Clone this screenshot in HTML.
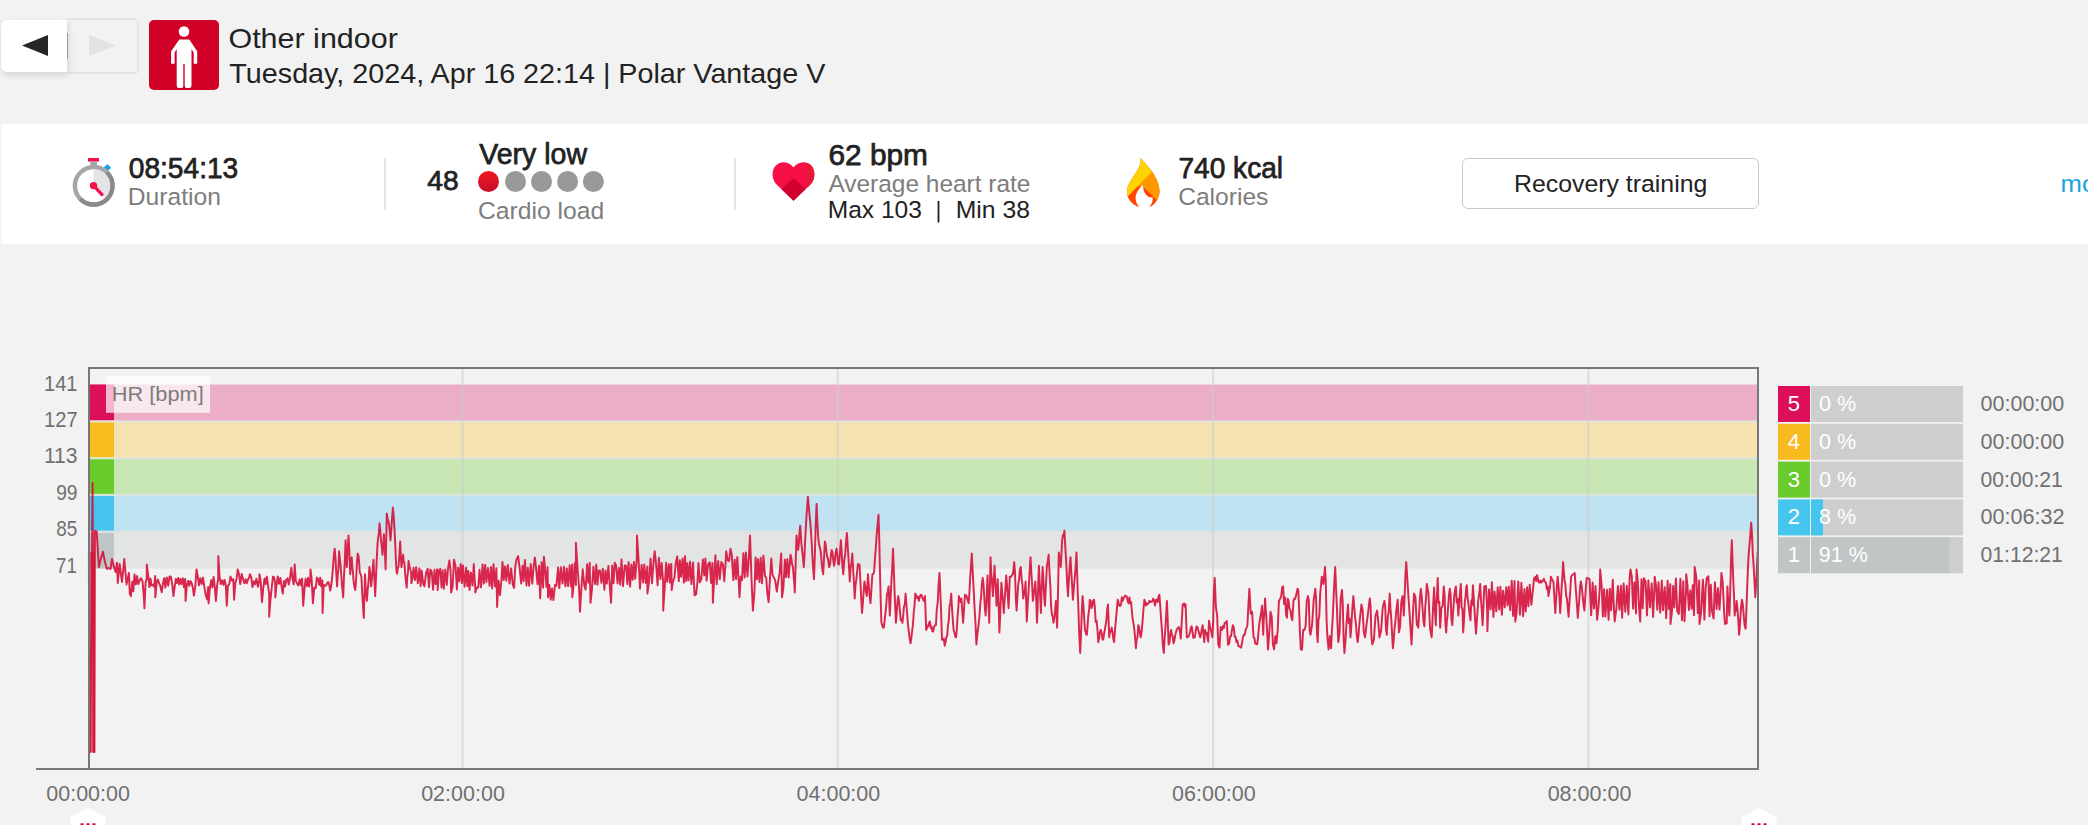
<!DOCTYPE html>
<html>
<head>
<meta charset="utf-8">
<title>Training analysis</title>
<style>
html,body{margin:0;padding:0;}
body{width:2088px;height:825px;overflow:hidden;background:#f2f2f2;position:relative;font-family:"Liberation Sans",sans-serif;color:#222;}
.abs{position:absolute;}
#nav1{left:1px;top:20px;width:66px;height:52px;background:#fff;border-radius:6px 0 0 6px;box-shadow:1px 3px 7px rgba(0,0,0,.13);}
#nav2{left:67px;top:20px;width:70px;height:52px;background:#f2f2f2;box-shadow:0 0 3px rgba(0,0,0,.2);}
#sport{left:149px;top:20px;width:70px;height:70px;background:#d10027;border-radius:5px;}
#panel{left:1px;top:124px;width:2090px;height:120px;background:#fff;}
#rt{left:1462px;top:158px;width:295px;height:49px;border:1px solid #c9c9c9;border-radius:6px;background:#fff;}
svg text{font-family:"Liberation Sans",sans-serif;}
</style>
</head>
<body>
<div class="abs" id="nav2"></div>
<div class="abs" id="nav1"></div>
<div class="abs" id="sport"></div>
<div class="abs" id="panel"></div>
<div class="abs" id="rt"></div>
<svg class="abs" style="left:0;top:0" width="2088" height="825" viewBox="0 0 2088 825">
<polygon points="22,45.500 48,35 48,56" fill="#262626"/>
<polygon points="89,35 115.600,45.500 89,56" fill="#e1e2e4"/>
<rect x="67" y="33" width="1" height="26" fill="#9a9a9a"/>
<g fill="#fff"><circle cx="184" cy="31.500" r="5.300"/><path d="M179.300,39.600 H189.300 L197.200,51.200 V63.800 H193.700 V52.600 L191.500,49.200 V85.800 Q191.500,88 189.300,88 H186.600 Q184.700,88 184.700,85.800 V64 H183.300 V85.800 Q183.600,88 181.400,88 H178.900 Q176.700,88 176.700,85.800 V49.200 L174.600,52.600 V63.800 H171.100 V51.200 Z"/></g>
<text x="228.44" y="48" font-size="28" fill="#222" textLength="169.39" lengthAdjust="spacingAndGlyphs" xml:space="preserve">Other indoor</text>
<text x="229.36" y="82.5" font-size="28" fill="#222" textLength="596.00" lengthAdjust="spacingAndGlyphs" xml:space="preserve">Tuesday, 2024, Apr 16 22:14 | Polar Vantage V</text>
<text x="128.78" y="178.3" font-size="29" fill="#222" stroke="#222" stroke-width="0.75" stroke-linejoin="round" textLength="109.46" lengthAdjust="spacingAndGlyphs" xml:space="preserve">08:54:13</text>
<text x="127.79" y="204.8" font-size="24.5" fill="#7d7d7d" textLength="93.20" lengthAdjust="spacingAndGlyphs" xml:space="preserve">Duration</text>
<text x="427.36" y="190" font-size="28.5" fill="#222" stroke="#222" stroke-width="0.75" stroke-linejoin="round" textLength="31.35" lengthAdjust="spacingAndGlyphs" xml:space="preserve">48</text>
<text x="479.35" y="164.3" font-size="29" fill="#222" stroke="#222" stroke-width="0.75" stroke-linejoin="round" textLength="107.65" lengthAdjust="spacingAndGlyphs" xml:space="preserve">Very low</text>
<text x="478.04" y="219" font-size="24.5" fill="#7d7d7d" textLength="126.22" lengthAdjust="spacingAndGlyphs" xml:space="preserve">Cardio load</text>
<text x="828.43" y="165.1" font-size="29" fill="#222" stroke="#222" stroke-width="0.75" stroke-linejoin="round" textLength="99.50" lengthAdjust="spacingAndGlyphs" xml:space="preserve">62 bpm</text>
<text x="828.40" y="192" font-size="24.5" fill="#7d7d7d" textLength="202.07" lengthAdjust="spacingAndGlyphs" xml:space="preserve">Average heart rate</text>
<text x="827.70" y="217.8" font-size="24.5" fill="#222" textLength="94.17" lengthAdjust="spacingAndGlyphs" xml:space="preserve">Max 103</text>
<rect x="937.600" y="201" width="1.800" height="21.500" fill="#222"/>
<text x="955.78" y="217.8" font-size="24.5" fill="#222" textLength="74.16" lengthAdjust="spacingAndGlyphs" xml:space="preserve">Min 38</text>
<text x="1178.42" y="178.3" font-size="29" fill="#222" stroke="#222" stroke-width="0.75" stroke-linejoin="round" textLength="104.63" lengthAdjust="spacingAndGlyphs" xml:space="preserve">740 kcal</text>
<text x="1178.14" y="204.8" font-size="24.5" fill="#7d7d7d" textLength="90.32" lengthAdjust="spacingAndGlyphs" xml:space="preserve">Calories</text>
<text x="1513.97" y="192.4" font-size="24.5" fill="#222" textLength="193.36" lengthAdjust="spacingAndGlyphs" xml:space="preserve">Recovery training</text>
<text x="2060.60" y="192" font-size="24.5" fill="#1ba4dc" textLength="58.38" lengthAdjust="spacingAndGlyphs" xml:space="preserve">more</text>
<rect x="384" y="158" width="2" height="52" fill="#e4e4e4"/>
<rect x="734" y="158" width="2" height="52" fill="#e4e4e4"/>
<defs><linearGradient id="rg" x1="0" y1="0" x2="0" y2="1"><stop offset="0" stop-color="#f4161f"/><stop offset="1" stop-color="#c40f2b"/></linearGradient></defs>
<circle cx="488.5" cy="181.500" r="10.500" fill="url(#rg)"/>
<circle cx="515.5" cy="181.500" r="10.500" fill="#999"/>
<circle cx="541.5" cy="181.500" r="10.500" fill="#999"/>
<circle cx="567.6" cy="181.500" r="10.500" fill="#999"/>
<circle cx="593.4" cy="181.500" r="10.500" fill="#999"/>
<g><rect x="88" y="158" width="11" height="3.600" fill="#f5104a"/><rect x="90.300" y="161.500" width="6.600" height="5" fill="#a6a6a6"/><rect x="104.800" y="165.100" width="5.400" height="5.400" rx="1" fill="#1aa3e0" transform="rotate(45 107.500 167.600)"/><circle cx="93.700" cy="185.800" r="18.800" fill="#fff" stroke="#a6a6a6" stroke-width="4.400"/><path d="M107.000,172.500 A18.800,18.800 0 0 1 80.400,199.100" fill="none" stroke="#8a8a8a" stroke-width="4.400"/><path d="M93.700,185.800 L93.700,169.200 A16.600,16.600 0 0 1 105.400,197.500 Z" fill="#e3e4e6"/><line x1="93.500" y1="185.600" x2="102" y2="194.600" stroke="#f5104a" stroke-width="3.200" stroke-linecap="round"/><circle cx="93.500" cy="185.600" r="3.700" fill="#f5104a"/></g>
<g><path id="hp" d="M793.500,200.800 L776.500,184.500 C770.500,178 771.500,167 778.500,163.500 C784.500,160.500 790.500,163 793.500,167.500 C796.500,163 802.500,160.500 808.500,163.500 C815.500,167 816.500,178 810.500,184.500 Z" fill="#f50f46"/><clipPath id="hc"><use href="#hp"/></clipPath><g clip-path="url(#hc)"><rect x="807" y="155" width="12" height="50" fill="#e51837"/><polygon points="793.500,178.300 806.500,190 793.500,203 780.500,190" fill="#d1002e"/></g></g>
<g><clipPath id="fc"><path d="M1140.600,158 C1141.500,166 1136,172 1130.500,181 C1126,188.500 1125.500,196 1131,202 C1134,205 1137,206.500 1139.100,206.900 C1135,201.500 1134.500,196.500 1137.500,191.500 C1139.500,188 1142,186 1143.500,183.600 C1142.500,189 1144,193.500 1148,196.500 C1150,197.800 1151.500,197.500 1152.300,197 C1153.500,200 1152,204 1149.300,206.900 C1154,205.500 1158,200.500 1159.300,194 C1160.500,186 1156,177 1151,170 C1147.500,165.500 1143.500,161.500 1140.600,158 Z"/></clipPath><g clip-path="url(#fc)"><rect x="1120" y="150" width="50" height="65" fill="#ff4500"/><polygon points="1152.200,171.500 1175,150 1175,215 1157.500,200.600 1143,186.600 1137.500,186.200" fill="#ff9800"/><polygon points="1120,150 1175,150 1152.200,171.500 1128,196.200 1120,205" fill="#ffd203"/></g></g>
<rect x="89" y="384.50" width="1669" height="36.82" fill="#ebaec6"/>
<rect x="89" y="384.50" width="25" height="36.82" fill="#de0f5a"/>
<rect x="89" y="421.32" width="1669" height="36.82" fill="#f5e2b0"/>
<rect x="89" y="421.32" width="25" height="36.82" fill="#f8bc1f"/>
<rect x="89" y="458.14" width="1669" height="36.82" fill="#c8e5b4"/>
<rect x="89" y="458.14" width="25" height="36.82" fill="#6acb2d"/>
<rect x="89" y="494.96" width="1669" height="36.82" fill="#bfe3f2"/>
<rect x="89" y="494.96" width="25" height="36.82" fill="#45c5ee"/>
<rect x="89" y="531.78" width="1669" height="36.82" fill="#e3e4e4"/>
<rect x="89" y="531.78" width="25" height="36.82" fill="#c0c5c5"/>
<rect x="89" y="420.22" width="1669" height="2.200" fill="#e1e3e1" opacity="0.8"/>
<rect x="89" y="420.22" width="25" height="2.200" fill="#eaf0ea" opacity="0.4"/>
<rect x="89" y="457.04" width="1669" height="2.200" fill="#e1e3e1" opacity="0.8"/>
<rect x="89" y="457.04" width="25" height="2.200" fill="#eaf0ea" opacity="0.4"/>
<rect x="89" y="493.86" width="1669" height="2.200" fill="#e1e3e1" opacity="0.8"/>
<rect x="89" y="493.86" width="25" height="2.200" fill="#eaf0ea" opacity="0.4"/>
<rect x="89" y="530.68" width="1669" height="2.200" fill="#e1e3e1" opacity="0.8"/>
<rect x="89" y="530.68" width="25" height="2.200" fill="#eaf0ea" opacity="0.4"/>
<rect x="461.4" y="368" width="2.200" height="401" fill="#ccc" opacity="0.55"/>
<rect x="836.6999999999999" y="368" width="2.200" height="401" fill="#ccc" opacity="0.55"/>
<rect x="1212.0" y="368" width="2.200" height="401" fill="#ccc" opacity="0.55"/>
<rect x="1587.3000000000002" y="368" width="2.200" height="401" fill="#ccc" opacity="0.55"/>
<rect x="106" y="376.200" width="104" height="36.600" fill="#fff" opacity="0.7"/>
<text x="111.79" y="400.9" font-size="21" fill="#7b7b7b" textLength="91.90" lengthAdjust="spacingAndGlyphs" xml:space="preserve">HR [bpm]</text>
<rect x="88.300" y="552" width="6.800" height="200.500" fill="#d5103a" opacity="0.6"/>
<path d="M88.9,551.0 L89.2,752.0 L90.2,752.0 L92.6,483.0 L93.6,752.0 L94.4,752.0 L94.9,531.0 L96.7,531.5 L98.9,567.0 L100.5,560.0 L102.9,551.8 L105.0,562.0 L106.9,569.0 L108.5,568.0 L110.5,569.0 L112.0,559.0 L113.8,566.0 L115.6,572.0 L117.0,562.7 L117.8,583.0 L119.6,564.0 L122.0,582.0 L124.3,559.0 L126.5,584.5 L127.6,579.1 L128.9,572.9 L129.8,593.6 L130.9,596.2 L132.3,581.6 L133.3,591.2 L134.5,574.5 L135.8,584.3 L137.1,576.1 L138.3,584.1 L139.7,580.1 L141.1,578.2 L142.5,581.1 L143.9,597.1 L144.4,608.2 L145.6,582.3 L146.7,578.7 L146.8,564.5 L148.2,575.6 L149.4,587.1 L150.5,578.6 L151.5,585.3 L152.7,584.8 L154.1,586.6 L155.2,575.9 L155.3,597.3 L156.7,582.8 L157.8,579.6 L159.1,583.2 L160.3,586.0 L161.7,592.3 L162.9,583.6 L164.3,578.1 L165.3,587.6 L166.8,577.4 L168.2,585.7 L169.6,576.5 L170.9,576.7 L172.3,584.9 L173.5,596.1 L174.5,588.0 L175.8,578.9 L176.9,583.1 L178.1,578.0 L179.2,584.5 L180.3,578.9 L181.5,584.0 L182.8,578.2 L183.9,587.2 L185.2,578.9 L185.6,600.9 L186.8,585.5 L188.2,581.0 L189.2,585.9 L190.5,581.1 L191.7,583.2 L192.9,587.9 L193.9,595.6 L195.3,586.6 L196.5,569.4 L197.9,577.2 L198.9,585.3 L200.3,578.3 L201.7,584.1 L203.0,577.6 L204.4,587.1 L205.8,595.3 L207.1,599.2 L208.2,587.1 L208.6,603.3 L209.9,587.9 L211.3,580.1 L212.4,587.4 L213.6,576.9 L214.7,586.0 L215.9,601.0 L217.1,585.6 L218.2,579.2 L218.3,556.1 L219.6,577.1 L220.8,584.1 L222.2,580.3 L223.5,584.9 L224.6,580.0 L225.8,585.0 L226.8,605.8 L227.9,585.8 L229.2,584.3 L230.5,576.6 L232.0,580.6 L233.3,579.2 L234.1,599.7 L235.3,583.2 L236.6,578.7 L237.7,569.4 L239.0,574.1 L240.3,584.1 L241.7,574.0 L243.1,579.0 L244.3,583.2 L245.7,579.3 L246.7,583.2 L248.1,579.3 L249.3,577.3 L249.8,574.2 L251.2,576.8 L252.5,587.1 L253.8,581.3 L255.1,584.4 L256.4,578.7 L257.9,586.8 L259.3,580.1 L259.5,574.2 L260.6,580.9 L262.0,602.1 L263.2,588.3 L264.6,578.4 L265.6,584.1 L266.9,576.6 L268.1,586.6 L269.2,593.4 L269.2,616.7 L270.3,601.4 L271.7,587.8 L273.0,576.7 L274.2,577.3 L275.2,583.5 L275.3,597.3 L276.5,585.6 L277.8,576.4 L279.1,583.8 L280.4,578.0 L281.7,587.1 L282.8,593.7 L284.0,580.9 L285.0,586.5 L286.3,579.7 L287.6,578.3 L288.7,584.6 L289.9,578.7 L291.3,567.8 L292.4,578.0 L293.7,584.4 L294.7,564.5 L295.8,580.8 L297.2,583.9 L298.4,585.5 L299.6,579.5 L301.0,585.2 L302.1,578.6 L303.2,605.8 L304.6,587.8 L305.6,578.8 L307.0,586.1 L308.0,577.8 L309.1,586.6 L310.2,578.9 L310.5,569.4 L311.6,578.8 L312.9,603.3 L314.3,587.6 L315.7,588.2 L316.9,577.5 L318.1,579.6 L319.2,584.9 L320.2,577.6 L321.2,586.4 L322.3,580.4 L322.6,613.0 L323.7,584.8 L325.0,585.8 L326.4,585.1 L327.4,582.7 L328.3,582.1 L329.2,584.7 L330.2,590.5 L331.1,586.4 L332.0,578.6 L332.9,568.3 L333.8,556.1 L334.7,548.8 L335.5,558.7 L336.3,573.4 L337.1,586.4 L337.8,573.6 L338.4,569.5 L339.1,551.2 L339.8,558.0 L340.5,565.2 L341.2,574.2 L341.9,584.4 L342.5,589.8 L343.2,597.3 L344.0,575.6 L344.8,562.1 L345.6,540.3 L346.8,567.0 L347.7,550.5 L348.5,535.5 L349.4,551.9 L350.2,574.2 L350.9,566.5 L351.7,557.3 L352.3,566.4 L353.0,572.7 L353.6,581.5 L354.5,587.3 L355.3,590.0 L356.1,579.7 L356.9,563.8 L357.7,553.6 L358.4,555.2 L359.0,560.5 L359.7,571.8 L360.5,574.0 L361.4,576.7 L362.2,593.1 L363.0,606.3 L363.8,617.9 L365.0,574.2 L365.6,586.2 L366.3,596.1 L366.9,600.9 L367.7,589.6 L368.6,580.6 L369.4,567.0 L370.2,573.3 L371.1,586.4 L371.9,579.0 L372.7,569.4 L373.5,559.7 L374.3,577.7 L375.2,596.1 L376.0,577.3 L376.8,558.1 L377.6,542.7 L378.3,536.6 L378.9,532.6 L379.5,523.3 L380.3,530.4 L381.0,540.3 L381.7,545.5 L382.5,554.8 L383.2,545.1 L383.9,534.2 L384.8,549.6 L385.6,569.4 L386.8,513.6 L387.6,518.5 L388.4,521.2 L389.2,525.8 L390.5,540.3 L391.3,530.1 L392.1,517.2 L392.9,507.6 L393.7,516.5 L394.6,530.6 L395.2,543.6 L395.9,560.4 L396.5,571.8 L397.2,573.7 L397.8,567.9 L398.5,567.0 L399.3,556.0 L400.2,541.5 L401.4,567.0 L402.2,562.6 L403.1,554.8 L403.7,561.4 L404.4,562.7 L405.0,571.8 L405.8,580.4 L406.7,587.6 L407.3,576.6 L408.0,572.4 L408.6,560.9 L409.4,566.3 L410.3,569.5 L411.1,571.8 L411.4,583.2 L412.5,577.9 L413.6,567.7 L414.9,580.1 L416.2,567.3 L417.8,583.2 L419.4,568.4 L420.6,586.3 L421.7,570.5 L423.2,583.9 L424.5,586.2 L426.1,572.5 L427.6,568.8 L429.0,587.3 L430.3,569.5 L431.7,571.6 L433.1,589.8 L434.5,569.6 L435.7,584.1 L437.2,569.2 L437.7,590.0 L438.9,570.9 L440.3,568.8 L441.5,587.5 L442.7,570.2 L443.8,588.8 L445.3,569.5 L446.8,584.9 L448.0,568.7 L449.4,560.5 L450.6,571.3 L451.1,592.4 L452.6,587.1 L454.0,559.7 L455.5,565.8 L456.9,589.5 L458.1,567.7 L459.3,581.2 L460.7,563.9 L461.9,583.1 L463.0,565.4 L464.6,586.6 L466.2,567.6 L467.3,586.0 L468.4,570.9 L469.5,589.9 L470.9,572.6 L472.5,585.6 L473.8,564.1 L475.3,589.6 L475.3,592.4 L476.8,587.4 L478.3,587.4 L479.5,569.7 L481.0,587.3 L482.6,564.5 L483.8,583.6 L485.2,564.9 L486.4,582.1 L487.9,568.0 L489.6,585.9 L490.9,567.1 L492.2,588.5 L493.5,564.2 L495.1,586.5 L496.4,568.3 L497.1,607.0 L498.5,580.7 L500.0,595.1 L501.4,580.4 L502.5,562.0 L503.7,580.0 L505.1,566.4 L506.3,580.7 L507.9,565.0 L509.5,583.6 L511.2,568.4 L512.8,584.9 L514.1,587.9 L515.3,565.9 L516.5,559.7 L518.1,556.2 L519.6,567.6 L521.2,583.5 L522.5,565.8 L523.7,581.0 L524.9,559.9 L526.5,585.5 L527.8,567.8 L529.1,585.7 L530.7,564.0 L532.3,583.6 L533.6,566.7 L534.9,557.6 L536.2,569.6 L537.5,584.1 L539.0,565.8 L540.2,598.2 L541.6,562.3 L543.1,587.6 L543.9,556.8 L545.1,569.1 L546.5,586.8 L547.6,567.3 L548.0,597.3 L549.3,584.9 L550.7,599.7 L552.0,588.4 L553.4,600.1 L555.0,584.9 L556.4,585.7 L558.1,567.5 L559.3,588.1 L560.9,567.3 L562.5,583.6 L564.0,566.8 L565.4,586.3 L566.8,568.4 L568.1,586.1 L569.7,565.2 L571.0,586.5 L572.2,564.7 L572.3,597.3 L573.4,587.4 L574.8,563.2 L575.9,584.9 L575.9,542.7 L577.4,566.2 L579.0,587.1 L580.0,611.8 L581.5,586.4 L582.7,569.2 L584.3,585.5 L585.6,589.6 L587.1,564.3 L588.3,582.6 L589.7,562.9 L590.5,602.8 L591.9,589.9 L593.4,566.8 L595.0,584.0 L596.3,564.6 L597.5,584.7 L598.6,570.8 L600.0,570.4 L601.4,582.9 L602.8,568.7 L604.4,589.7 L605.5,570.4 L606.8,583.6 L608.4,565.9 L610.0,588.6 L611.1,602.8 L612.2,565.6 L613.5,583.2 L614.8,562.7 L616.2,566.0 L617.5,583.4 L618.9,567.9 L620.2,584.8 L621.5,559.4 L623.0,586.2 L624.7,565.4 L626.1,565.6 L627.4,584.3 L628.6,562.1 L630.1,586.6 L631.4,564.6 L632.7,579.8 L634.0,562.0 L635.2,578.8 L636.8,558.6 L637.0,535.5 L638.5,558.8 L640.0,588.7 L641.6,564.9 L643.2,582.5 L644.3,564.4 L645.9,582.9 L647.4,566.6 L647.4,593.6 L649.0,581.9 L650.6,558.6 L652.0,583.3 L653.5,562.7 L654.7,551.2 L656.1,564.1 L657.6,585.2 L658.9,557.8 L660.4,579.0 L661.7,562.9 L663.1,581.6 L663.2,610.6 L664.8,586.0 L666.1,562.7 L667.2,581.8 L668.9,564.3 L670.0,582.5 L671.3,563.9 L671.7,590.0 L672.9,581.8 L674.4,577.7 L675.8,562.9 L677.2,556.4 L678.8,581.1 L679.9,560.3 L681.1,576.7 L682.6,558.5 L683.9,582.6 L685.0,556.3 L686.2,581.1 L687.3,563.2 L688.5,580.3 L690.0,561.6 L691.4,584.1 L693.0,562.5 L694.6,595.4 L696.1,594.3 L697.4,582.7 L698.5,563.1 L699.8,582.3 L701.4,579.0 L702.9,559.4 L704.3,575.3 L705.4,558.5 L706.6,580.6 L708.1,564.1 L709.8,562.4 L711.1,583.0 L712.4,563.1 L712.9,602.8 L714.1,579.9 L715.4,555.2 L716.7,584.1 L718.2,560.9 L719.8,579.2 L721.3,562.1 L722.9,564.4 L724.3,581.2 L725.6,562.8 L726.2,551.2 L727.7,560.3 L729.1,561.0 L730.5,548.7 L731.8,555.0 L733.3,580.1 L734.7,559.7 L736.0,579.1 L737.3,557.1 L738.6,579.8 L739.5,597.3 L740.7,576.5 L742.0,580.1 L743.4,553.3 L744.7,577.5 L745.9,552.5 L747.5,576.5 L748.9,556.8 L750.0,535.5 L751.6,581.2 L752.9,610.6 L754.4,592.2 L755.6,557.5 L756.9,579.3 L758.1,559.1 L759.5,582.1 L760.7,557.7 L762.0,583.3 L763.4,555.6 L765.0,576.2 L766.2,577.6 L767.3,592.8 L768.6,602.1 L770.1,576.5 L771.3,558.5 L772.5,574.7 L773.9,577.7 L775.2,580.4 L776.8,591.6 L778.2,581.2 L779.6,572.9 L781.2,553.5 L782.0,597.3 L783.4,587.5 L784.9,559.6 L786.0,577.0 L787.4,559.1 L788.6,577.4 L790.5,554.8 L791.3,558.1 L792.1,564.3 L792.9,567.0 L793.5,574.5 L794.2,582.5 L794.8,592.4 L795.7,562.3 L796.5,535.5 L797.4,542.5 L798.2,550.0 L798.9,542.9 L799.5,532.9 L800.2,525.8 L800.8,534.0 L801.4,543.8 L802.1,550.0 L802.9,556.8 L803.8,567.0 L804.4,558.0 L805.1,540.9 L805.7,530.6 L806.5,515.8 L807.2,507.1 L807.9,496.7 L808.7,505.5 L809.5,515.0 L810.3,522.3 L811.1,533.0 L811.8,545.0 L812.5,558.3 L813.2,569.7 L814.0,579.1 L814.9,553.9 L815.7,526.0 L816.6,503.9 L817.5,524.7 L818.3,537.9 L819.1,544.9 L819.9,547.4 L820.8,552.4 L821.6,562.3 L822.4,569.9 L823.2,574.2 L824.0,558.3 L824.9,541.5 L825.7,544.8 L826.5,552.6 L827.3,557.3 L827.9,558.4 L828.6,563.1 L829.2,567.0 L830.1,564.2 L830.9,555.5 L831.7,550.0 L832.5,552.8 L833.3,560.7 L834.1,565.8 L834.9,559.8 L835.7,552.3 L836.5,548.8 L837.3,554.1 L838.1,563.8 L838.9,564.5 L839.6,558.4 L840.2,549.3 L840.9,540.3 L841.7,552.8 L842.5,567.0 L843.3,574.2 L844.2,560.1 L845.1,555.5 L846.0,542.5 L846.9,533.0 L847.7,546.3 L848.4,556.8 L849.1,568.2 L849.8,581.5 L850.7,567.0 L851.5,563.3 L852.3,553.6 L853.1,569.7 L853.9,581.6 L854.7,598.5 L855.5,585.5 L856.3,579.9 L857.1,571.8 L857.9,564.1 L858.7,564.9 L859.5,564.5 L860.4,581.3 L861.2,598.1 L862.0,613.0 L862.8,603.7 L863.6,592.8 L864.4,581.5 L865.2,586.0 L866.0,592.0 L866.8,596.1 L868.0,574.2 L868.8,585.8 L869.6,595.4 L870.5,603.3 L871.1,594.2 L871.7,584.4 L872.4,574.2 L873.2,574.1 L874.1,571.8 L875.0,557.7 L875.8,548.6 L876.7,534.2 L877.6,524.7 L878.5,514.8 L879.2,536.6 L879.9,567.9 L880.6,597.1 L881.4,622.7 L882.2,625.1 L883.0,627.6 L883.8,627.6 L884.6,621.2 L885.4,613.4 L886.2,605.8 L887.0,594.3 L887.8,591.5 L888.6,586.4 L889.8,615.5 L890.6,598.8 L891.4,580.7 L892.2,568.0 L893.0,548.8 L893.7,566.2 L894.5,589.5 L895.2,606.6 L895.9,622.7 L896.7,613.4 L897.5,601.6 L898.3,596.1 L899.1,601.6 L899.9,610.8 L900.8,620.3 L901.6,619.0 L902.4,622.8 L903.2,615.5 L904.0,606.1 L904.8,604.6 L905.6,593.6 L906.4,604.7 L907.2,614.1 L908.0,625.2 L908.8,631.6 L909.6,638.0 L910.5,643.3 L911.3,638.4 L912.1,631.1 L912.9,625.2 L913.7,613.1 L914.5,605.7 L915.3,593.6 L916.2,595.6 L917.1,598.1 L918.0,596.6 L918.9,600.9 L919.7,597.5 L920.6,594.9 L921.4,594.8 L922.2,597.0 L923.0,599.2 L923.8,600.9 L925.0,596.1 L926.2,630.0 L927.1,627.7 L928.0,626.4 L928.9,623.4 L929.8,621.5 L930.7,627.8 L931.5,626.3 L932.3,631.2 L933.2,631.5 L934.1,626.8 L935.0,625.3 L935.9,625.2 L936.8,609.3 L937.7,602.7 L938.6,584.1 L939.5,573.0 L940.4,594.1 L941.2,615.1 L942.0,639.7 L942.9,639.7 L943.8,638.5 L944.7,645.7 L945.6,642.1 L946.4,637.0 L947.2,635.9 L948.0,625.2 L948.8,620.0 L949.6,605.8 L950.4,602.9 L951.2,593.6 L952.0,608.0 L952.8,619.7 L953.6,630.0 L954.4,632.2 L955.2,636.5 L956.0,637.3 L956.8,630.1 L957.5,616.9 L958.2,609.3 L958.9,596.1 L959.7,599.8 L960.6,602.1 L961.4,598.5 L962.2,610.4 L963.1,622.7 L963.7,614.4 L964.4,603.4 L965.0,594.8 L965.9,595.1 L966.8,596.7 L967.7,600.3 L968.6,603.3 L969.4,593.2 L970.2,577.2 L971.0,566.0 L971.8,553.6 L972.7,571.9 L973.6,588.3 L974.6,608.2 L975.5,623.6 L976.4,644.5 L977.2,635.9 L978.0,629.1 L978.8,623.0 L979.5,615.5 L980.3,603.5 L981.1,596.7 L981.9,583.6 L982.7,577.9 L983.4,582.8 L984.2,596.2 L984.9,608.4 L985.6,615.5 L986.3,605.5 L986.9,590.8 L987.5,575.5 L988.4,599.5 L989.2,622.7 L990.5,557.3 L991.3,574.3 L992.1,583.6 L992.9,596.1 L993.7,579.3 L994.6,565.8 L995.2,581.2 L995.9,590.9 L996.5,605.8 L997.7,579.1 L998.6,603.3 L999.4,632.4 L1000.1,617.1 L1000.7,601.7 L1001.4,582.7 L1002.2,592.0 L1003.0,601.1 L1003.8,613.0 L1004.6,600.7 L1005.4,589.4 L1006.2,575.5 L1007.0,584.2 L1007.8,596.5 L1008.6,608.2 L1009.8,576.7 L1010.7,577.1 L1011.5,576.0 L1012.3,574.2 L1012.9,574.3 L1013.6,568.2 L1014.2,562.1 L1015.0,572.5 L1015.8,597.3 L1016.6,610.6 L1017.5,595.6 L1018.3,583.9 L1019.1,579.3 L1019.9,569.3 L1020.8,567.0 L1021.6,578.9 L1022.4,584.3 L1023.2,598.5 L1024.0,594.6 L1024.8,590.8 L1025.6,581.5 L1026.8,621.5 L1027.7,604.9 L1028.6,590.9 L1029.5,573.7 L1030.5,557.3 L1031.3,571.6 L1032.1,584.4 L1032.9,600.9 L1033.7,594.3 L1034.5,588.8 L1035.3,581.5 L1036.2,599.2 L1037.0,622.7 L1037.6,608.1 L1038.3,582.0 L1038.9,565.8 L1039.6,581.0 L1040.2,596.6 L1040.9,613.0 L1041.7,589.5 L1042.6,567.0 L1043.4,579.0 L1044.2,597.3 L1045.0,605.8 L1045.6,591.9 L1046.3,578.6 L1046.9,565.8 L1047.8,561.6 L1048.6,554.8 L1049.4,570.5 L1050.3,585.3 L1051.1,605.8 L1051.9,614.5 L1052.7,616.8 L1053.5,622.7 L1054.3,618.0 L1055.1,610.7 L1055.9,600.9 L1057.1,627.6 L1058.0,594.1 L1058.8,552.4 L1059.5,558.9 L1060.1,562.6 L1060.8,567.0 L1062.0,542.7 L1062.8,534.9 L1063.6,536.6 L1064.4,530.6 L1065.6,552.4 L1066.4,564.9 L1067.2,584.5 L1068.0,596.1 L1068.8,582.0 L1069.6,568.0 L1070.5,557.3 L1071.3,571.5 L1072.1,585.3 L1072.9,599.7 L1073.8,588.3 L1074.7,578.1 L1075.6,567.6 L1076.5,552.4 L1077.7,591.2 L1078.5,612.2 L1079.3,635.6 L1080.2,653.0 L1081.0,634.6 L1081.8,611.7 L1082.6,596.1 L1083.4,605.5 L1084.2,618.5 L1085.0,630.0 L1085.6,631.4 L1086.3,634.6 L1086.9,634.8 L1087.7,624.1 L1088.4,614.6 L1089.1,610.3 L1089.8,599.7 L1090.7,601.0 L1091.5,608.1 L1092.3,605.8 L1093.1,600.6 L1094.0,599.7 L1094.8,606.8 L1095.7,621.9 L1096.6,621.0 L1097.5,629.8 L1098.3,642.1 L1099.1,638.4 L1099.9,632.1 L1100.8,630.0 L1101.6,632.7 L1102.4,639.1 L1103.2,639.7 L1104.0,634.3 L1104.8,630.0 L1105.6,625.2 L1106.4,620.1 L1107.2,609.3 L1108.0,604.5 L1109.2,637.3 L1110.1,630.5 L1110.9,631.4 L1111.7,627.6 L1112.5,632.4 L1113.3,638.7 L1114.1,642.1 L1115.0,630.1 L1115.9,620.1 L1116.8,609.9 L1117.7,599.7 L1118.5,602.5 L1119.3,605.7 L1120.2,605.8 L1121.0,604.8 L1121.8,597.2 L1122.6,600.9 L1123.5,598.8 L1124.4,597.0 L1125.3,595.5 L1126.2,596.1 L1127.0,597.1 L1127.8,601.8 L1128.6,603.3 L1129.4,597.4 L1130.3,603.4 L1131.1,602.1 L1131.9,611.5 L1132.7,619.1 L1133.5,623.7 L1134.3,629.4 L1135.1,637.5 L1135.9,648.2 L1136.7,639.4 L1137.5,637.2 L1138.3,625.2 L1139.1,627.4 L1139.9,633.2 L1140.8,637.3 L1141.7,630.6 L1142.6,621.2 L1143.5,609.0 L1144.4,599.7 L1145.2,602.3 L1146.0,605.6 L1146.8,603.3 L1147.7,604.2 L1148.6,603.2 L1149.5,600.8 L1150.5,602.1 L1151.4,601.6 L1152.3,601.4 L1153.2,598.6 L1154.1,600.5 L1155.0,605.5 L1155.9,600.1 L1156.8,599.4 L1157.7,602.1 L1158.6,596.2 L1159.4,594.8 L1160.3,607.1 L1161.2,620.1 L1162.0,631.3 L1162.9,645.8 L1163.8,653.0 L1164.6,638.7 L1165.4,627.8 L1166.2,614.2 L1166.9,600.9 L1167.8,622.3 L1168.6,644.5 L1169.4,643.1 L1170.3,633.8 L1171.1,630.0 L1171.9,634.9 L1172.7,636.3 L1173.5,643.3 L1174.3,641.0 L1175.1,636.0 L1175.9,632.4 L1176.8,629.3 L1177.7,628.6 L1178.6,627.0 L1179.5,628.8 L1180.8,638.5 L1181.4,626.7 L1182.1,615.4 L1182.7,604.5 L1183.4,604.3 L1184.2,603.4 L1184.9,606.9 L1185.6,604.5 L1186.8,637.3 L1187.6,637.3 L1188.4,636.5 L1189.2,634.8 L1190.1,632.1 L1190.9,627.3 L1191.7,626.4 L1192.5,631.6 L1193.3,637.9 L1194.1,637.3 L1194.9,637.0 L1195.7,631.5 L1196.5,626.4 L1197.4,627.1 L1198.3,630.2 L1199.2,633.5 L1200.2,637.3 L1201.0,634.3 L1201.8,629.1 L1202.6,625.2 L1203.4,633.1 L1204.3,642.1 L1205.0,630.0 L1205.8,633.9 L1206.6,632.6 L1207.4,637.3 L1208.2,641.7 L1209.0,620.8 L1209.8,625.2 L1210.7,629.1 L1211.5,632.6 L1212.3,637.3 L1213.1,623.9 L1213.9,591.9 L1214.7,577.9 L1215.9,607.0 L1217.1,614.8 L1218.3,644.5 L1219.5,647.6 L1220.7,627.1 L1222.0,630.0 L1222.9,625.9 L1223.8,628.1 L1224.7,622.9 L1225.6,622.7 L1226.8,621.0 L1228.0,644.8 L1229.2,643.3 L1230.2,636.1 L1231.1,636.1 L1232.0,629.6 L1232.9,625.2 L1233.8,627.6 L1234.7,636.7 L1235.6,636.9 L1236.5,642.1 L1237.4,640.4 L1238.3,645.8 L1239.2,646.3 L1240.2,647.0 L1241.1,647.7 L1242.0,642.9 L1242.9,637.6 L1243.8,634.8 L1244.7,634.7 L1245.6,630.2 L1246.5,627.8 L1247.4,625.2 L1248.1,611.3 L1248.7,599.7 L1249.4,588.8 L1250.7,613.8 L1252.1,611.8 L1253.5,637.3 L1254.4,638.1 L1255.3,643.6 L1256.2,643.8 L1257.1,644.5 L1257.9,639.2 L1258.7,629.7 L1259.5,622.2 L1260.4,616.8 L1261.2,612.5 L1262.0,605.8 L1263.2,634.8 L1263.8,619.1 L1264.5,609.1 L1265.1,598.5 L1265.8,610.4 L1266.6,621.4 L1267.3,635.6 L1268.0,649.4 L1268.8,639.4 L1269.6,627.2 L1270.5,611.8 L1271.7,616.6 L1272.9,644.3 L1274.1,649.4 L1275.3,636.2 L1276.5,643.4 L1277.7,630.0 L1278.9,600.9 L1279.8,599.5 L1280.6,597.8 L1281.4,594.7 L1282.2,587.3 L1283.1,586.4 L1284.1,604.0 L1285.1,597.5 L1286.2,615.5 L1287.0,617.7 L1287.8,598.8 L1288.6,600.9 L1289.5,608.6 L1290.5,610.4 L1291.4,617.4 L1292.3,620.3 L1293.5,600.9 L1294.3,598.5 L1295.1,598.9 L1295.9,596.3 L1296.7,592.4 L1297.5,588.7 L1298.3,590.0 L1299.1,608.5 L1299.9,630.8 L1300.8,649.4 L1302.0,649.7 L1303.2,629.9 L1304.4,630.0 L1305.6,626.1 L1306.8,600.3 L1308.0,596.1 L1308.8,600.5 L1309.6,630.0 L1310.5,634.8 L1312.1,624.5 L1313.7,599.6 L1315.3,588.8 L1316.1,598.4 L1316.9,632.0 L1317.7,642.1 L1318.5,619.7 L1319.3,616.6 L1320.2,593.6 L1321.8,576.7 L1323.4,584.1 L1325.0,567.0 L1325.8,582.7 L1326.6,620.9 L1327.4,637.3 L1328.6,649.3 L1329.8,636.1 L1331.1,648.2 L1331.9,631.0 L1332.7,617.9 L1333.5,600.5 L1334.4,580.6 L1335.2,567.0 L1336.0,587.3 L1336.8,604.4 L1337.5,623.9 L1338.3,642.1 L1339.5,633.7 L1340.7,598.9 L1342.0,590.0 L1342.8,604.6 L1343.6,637.8 L1344.4,653.0 L1345.3,643.9 L1346.2,628.2 L1347.1,615.5 L1348.0,604.5 L1348.8,622.9 L1349.6,618.6 L1350.5,637.3 L1351.2,628.1 L1351.9,615.5 L1352.6,605.3 L1353.4,596.1 L1354.2,606.5 L1355.1,617.7 L1356.0,624.7 L1356.9,636.8 L1357.7,642.1 L1358.6,634.3 L1359.5,622.5 L1360.5,613.4 L1361.4,604.5 L1362.6,609.6 L1363.8,631.9 L1365.0,637.3 L1365.8,631.3 L1366.6,623.7 L1367.4,618.2 L1368.2,611.7 L1369.0,604.5 L1369.8,598.5 L1370.6,606.3 L1371.4,636.2 L1372.3,644.5 L1373.9,639.7 L1375.5,615.8 L1377.1,610.6 L1377.9,618.2 L1378.7,627.1 L1379.5,637.3 L1381.1,630.7 L1382.7,607.8 L1384.4,600.9 L1385.2,606.6 L1386.0,628.9 L1386.8,634.8 L1387.8,616.7 L1388.7,612.2 L1389.7,593.6 L1390.5,608.9 L1391.3,619.0 L1392.1,634.4 L1392.9,648.2 L1393.7,640.2 L1394.5,628.9 L1395.3,622.1 L1396.1,613.0 L1396.9,605.5 L1397.7,599.7 L1398.9,632.4 L1400.1,626.9 L1401.3,601.9 L1402.6,596.1 L1403.8,615.5 L1404.6,597.7 L1405.4,576.1 L1406.2,562.1 L1407.1,575.1 L1408.0,589.7 L1408.9,603.8 L1409.8,616.9 L1410.7,631.3 L1411.5,644.5 L1412.4,626.3 L1413.2,609.4 L1414.0,593.6 L1415.4,596.5 L1416.8,624.4 L1418.3,627.6 L1419.1,613.3 L1419.9,598.3 L1420.8,588.8 L1421.7,596.0 L1422.6,609.3 L1423.5,621.9 L1424.4,626.4 L1425.2,607.6 L1426.0,598.5 L1426.8,583.9 L1428.4,592.7 L1430.0,628.0 L1431.7,637.3 L1432.5,620.0 L1433.3,602.5 L1434.1,587.6 L1434.9,610.4 L1435.8,625.2 L1436.4,602.7 L1437.1,592.9 L1437.7,577.9 L1438.5,603.2 L1439.3,601.7 L1440.2,627.6 L1441.4,608.0 L1442.6,606.3 L1443.8,586.4 L1444.6,594.8 L1445.4,623.6 L1446.2,632.4 L1446.9,620.1 L1447.5,616.1 L1448.2,605.8 L1449.0,594.8 L1449.8,588.8 L1450.6,594.5 L1451.4,619.1 L1452.3,625.2 L1452.9,613.9 L1453.6,605.1 L1454.2,596.1 L1455.1,589.8 L1455.9,586.4 L1456.7,602.7 L1457.5,598.8 L1458.3,615.5 L1459.1,604.7 L1459.9,594.1 L1460.8,583.9 L1461.6,607.2 L1462.4,608.7 L1463.2,632.4 L1464.0,620.0 L1464.9,600.9 L1465.5,597.3 L1466.2,587.6 L1466.8,585.2 L1467.7,598.7 L1468.6,605.2 L1469.5,613.4 L1470.5,620.3 L1471.3,600.6 L1472.1,605.2 L1472.9,585.2 L1473.7,597.8 L1474.5,609.6 L1475.2,621.9 L1476.0,633.6 L1476.8,621.6 L1477.5,612.0 L1478.2,600.9 L1478.9,595.8 L1479.5,590.9 L1480.2,583.9 L1481.0,599.8 L1481.8,610.7 L1482.6,625.2 L1483.4,607.3 L1484.3,586.4 L1486.0,586.0 L1487.2,611.4 L1487.4,631.2 L1489.0,589.4 L1490.6,609.5 L1491.9,582.2 L1493.4,616.9 L1494.6,591.6 L1496.3,611.3 L1497.7,587.2 L1499.2,609.6 L1500.4,586.8 L1501.9,614.8 L1503.1,590.7 L1504.7,607.4 L1506.3,587.3 L1507.6,605.4 L1508.8,586.7 L1510.2,610.3 L1511.7,580.8 L1513.1,615.9 L1514.5,580.9 L1515.3,621.5 L1516.6,612.7 L1518.3,581.5 L1520.0,614.6 L1521.4,582.8 L1523.1,616.3 L1524.4,589.1 L1525.7,611.4 L1527.1,587.2 L1528.4,606.2 L1529.7,584.8 L1531.4,604.7 L1533.5,583.9 L1534.1,578.0 L1534.8,579.5 L1535.4,576.7 L1536.2,581.1 L1537.1,575.1 L1537.9,578.6 L1538.7,582.4 L1539.5,582.7 L1540.5,580.6 L1541.4,582.7 L1542.3,580.8 L1543.2,580.3 L1543.9,578.8 L1544.6,581.6 L1545.4,581.9 L1546.1,583.9 L1546.9,589.2 L1547.7,586.4 L1548.5,596.1 L1549.3,590.5 L1550.1,586.0 L1550.9,576.7 L1551.7,578.6 L1552.6,580.4 L1553.4,581.5 L1554.0,590.8 L1554.7,603.2 L1555.3,613.0 L1556.1,600.6 L1556.9,585.9 L1557.7,576.7 L1558.5,586.2 L1559.3,595.8 L1560.2,613.0 L1560.9,601.2 L1561.6,587.9 L1562.3,577.2 L1563.1,562.1 L1563.8,571.1 L1564.6,580.6 L1565.4,584.6 L1566.2,596.1 L1567.0,598.8 L1567.8,608.5 L1568.6,616.7 L1569.4,602.6 L1570.3,590.8 L1571.1,576.7 L1572.0,575.4 L1572.9,574.5 L1573.8,574.0 L1574.7,573.0 L1575.5,584.8 L1576.3,595.9 L1577.1,607.3 L1577.8,617.9 L1578.6,607.7 L1579.3,599.5 L1580.0,587.3 L1580.8,581.5 L1581.7,586.3 L1582.6,595.4 L1583.5,604.3 L1584.4,610.6 L1585.2,598.0 L1586.0,585.7 L1586.8,577.9 L1589.5,578.9 L1591.2,615.2 L1592.6,582.4 L1594.0,608.4 L1595.5,586.1 L1597.1,619.8 L1598.5,607.2 L1599.7,587.9 L1600.2,569.4 L1601.6,585.1 L1602.9,616.5 L1604.1,589.3 L1605.4,616.4 L1607.1,589.7 L1608.6,619.7 L1609.8,588.7 L1611.1,610.3 L1612.8,579.7 L1613.9,608.9 L1614.7,621.5 L1616.3,609.1 L1617.9,586.0 L1619.4,609.6 L1620.9,585.7 L1622.1,617.8 L1623.6,583.4 L1625.3,611.7 L1626.8,585.8 L1628.4,614.4 L1629.7,576.9 L1630.5,569.4 L1631.8,576.5 L1633.1,608.6 L1634.4,582.4 L1636.0,613.5 L1636.5,569.4 L1637.8,581.0 L1639.2,610.4 L1640.2,621.5 L1641.5,579.2 L1642.7,608.3 L1643.9,578.2 L1645.6,581.6 L1647.0,615.4 L1648.4,580.5 L1650.0,607.4 L1651.7,583.5 L1653.1,617.0 L1654.3,589.8 L1654.7,576.7 L1656.0,585.7 L1657.3,609.8 L1658.5,582.3 L1660.2,612.6 L1661.8,580.6 L1663.0,610.2 L1664.7,587.3 L1666.2,618.1 L1667.6,580.8 L1668.9,609.0 L1670.3,584.3 L1670.5,623.9 L1671.9,612.0 L1673.1,585.9 L1674.3,607.4 L1675.9,578.4 L1677.2,610.8 L1678.8,614.0 L1680.4,578.7 L1682.0,620.1 L1683.3,581.3 L1684.5,621.3 L1686.1,589.6 L1686.2,574.2 L1687.5,585.7 L1688.9,610.0 L1690.3,590.5 L1691.6,608.7 L1692.8,585.1 L1694.0,615.3 L1694.7,567.0 L1696.3,577.3 L1697.8,613.1 L1699.2,580.6 L1699.5,623.9 L1701.2,611.6 L1702.9,579.7 L1704.4,619.6 L1705.7,587.2 L1706.8,577.9 L1708.4,576.3 L1709.5,616.3 L1710.8,584.8 L1712.0,611.0 L1713.6,618.6 L1714.9,582.2 L1716.6,609.0 L1717.9,588.2 L1719.5,609.6 L1721.1,581.6 L1721.4,573.0 L1722.7,582.4 L1724.2,613.1 L1725.0,623.9 L1726.7,623.4 L1727.4,586.4 L1728.1,599.2 L1728.7,607.4 L1729.4,615.5 L1730.2,592.6 L1731.0,561.8 L1731.8,540.3 L1732.5,559.8 L1733.2,578.1 L1734.0,596.4 L1734.7,615.5 L1735.3,608.1 L1736.0,611.0 L1736.6,600.9 L1737.4,608.1 L1738.3,620.4 L1739.1,634.8 L1739.8,627.1 L1740.5,615.6 L1741.2,605.6 L1742.0,599.7 L1742.9,604.9 L1743.8,616.6 L1744.7,625.8 L1745.6,628.8 L1746.4,610.1 L1747.2,586.9 L1748.0,567.0 L1748.8,552.0 L1749.6,543.5 L1750.4,534.2 L1751.2,522.8 L1752.0,534.6 L1752.8,553.6 L1753.7,566.5 L1754.5,582.1 L1755.3,597.3 L1756.1,584.5 L1756.9,567.4 L1757.7,552.4" fill="none" stroke="#d5103a" stroke-width="1.950" stroke-linejoin="round" opacity="0.9"/>
<path d="M89,769 L89,368 L1758,368 L1758,769" fill="none" stroke="#777" stroke-width="2"/>
<rect x="36" y="768" width="1723" height="2" fill="#777"/>
<text x="44.02" y="391" font-size="22" fill="#707070" textLength="33.45" lengthAdjust="spacingAndGlyphs" xml:space="preserve">141</text>
<text x="44.01" y="426.9" font-size="22" fill="#707070" textLength="33.58" lengthAdjust="spacingAndGlyphs" xml:space="preserve">127</text>
<text x="43.95" y="463.4" font-size="22" fill="#707070" textLength="33.57" lengthAdjust="spacingAndGlyphs" xml:space="preserve">113</text>
<text x="56.13" y="499.8" font-size="22" fill="#707070" textLength="21.32" lengthAdjust="spacingAndGlyphs" xml:space="preserve">99</text>
<text x="56.25" y="536.2" font-size="22" fill="#707070" textLength="21.08" lengthAdjust="spacingAndGlyphs" xml:space="preserve">85</text>
<text x="56.04" y="572.7" font-size="22" fill="#707070" textLength="20.78" lengthAdjust="spacingAndGlyphs" xml:space="preserve">71</text>
<text x="46.24" y="801.4" font-size="22" fill="#707070" textLength="83.73" lengthAdjust="spacingAndGlyphs" xml:space="preserve">00:00:00</text>
<text x="421.14" y="801.4" font-size="22" fill="#707070" textLength="83.73" lengthAdjust="spacingAndGlyphs" xml:space="preserve">02:00:00</text>
<text x="796.54" y="801.4" font-size="22" fill="#707070" textLength="83.73" lengthAdjust="spacingAndGlyphs" xml:space="preserve">04:00:00</text>
<text x="1172.04" y="801.4" font-size="22" fill="#707070" textLength="83.73" lengthAdjust="spacingAndGlyphs" xml:space="preserve">06:00:00</text>
<text x="1547.64" y="801.4" font-size="22" fill="#707070" textLength="83.73" lengthAdjust="spacingAndGlyphs" xml:space="preserve">08:00:00</text>
<polygon points="88,807.500 105.5,817.500 105.5,830 70.5,830 70.5,817.500" fill="#fff"/>
<rect x="80.5" y="823.300" width="3" height="3" fill="#d10027"/>
<rect x="86.5" y="823.300" width="3" height="3" fill="#d10027"/>
<rect x="92.5" y="823.300" width="3" height="3" fill="#d10027"/>
<polygon points="1759,807.500 1776.5,817.500 1776.5,830 1741.5,830 1741.5,817.500" fill="#fff"/>
<rect x="1751.5" y="823.300" width="3" height="3" fill="#d10027"/>
<rect x="1757.5" y="823.300" width="3" height="3" fill="#d10027"/>
<rect x="1763.5" y="823.300" width="3" height="3" fill="#d10027"/>
<rect x="1778" y="386.0" width="32" height="36.0" fill="#dd0f59"/>
<rect x="1811" y="386.0" width="152" height="36.0" fill="#cecece"/>
<text x="1793.800" y="410.9" font-size="22" fill="#fff" text-anchor="middle">5</text>
<text x="1818.94" y="410.9" font-size="22" fill="#fff" textLength="37.23" lengthAdjust="spacingAndGlyphs" xml:space="preserve">0 %</text>
<text x="1980.54" y="410.9" font-size="22" fill="#707070" textLength="83.73" lengthAdjust="spacingAndGlyphs" xml:space="preserve">00:00:00</text>
<rect x="1778" y="423.8" width="32" height="36.0" fill="#f8bb1f"/>
<rect x="1811" y="423.8" width="152" height="36.0" fill="#cecece"/>
<text x="1793.800" y="448.7" font-size="22" fill="#fff" text-anchor="middle">4</text>
<text x="1818.94" y="448.7" font-size="22" fill="#fff" textLength="37.23" lengthAdjust="spacingAndGlyphs" xml:space="preserve">0 %</text>
<text x="1980.54" y="448.7" font-size="22" fill="#707070" textLength="83.73" lengthAdjust="spacingAndGlyphs" xml:space="preserve">00:00:00</text>
<rect x="1778" y="461.6" width="32" height="36.0" fill="#69cb2c"/>
<rect x="1811" y="461.6" width="152" height="36.0" fill="#cecece"/>
<text x="1793.800" y="486.5" font-size="22" fill="#fff" text-anchor="middle">3</text>
<text x="1818.94" y="486.5" font-size="22" fill="#fff" textLength="37.23" lengthAdjust="spacingAndGlyphs" xml:space="preserve">0 %</text>
<text x="1980.56" y="486.5" font-size="22" fill="#707070" textLength="82.22" lengthAdjust="spacingAndGlyphs" xml:space="preserve">00:00:21</text>
<rect x="1778" y="499.4" width="32" height="36.0" fill="#46c6ee"/>
<rect x="1811" y="499.4" width="152" height="36.0" fill="#cecece"/>
<rect x="1811" y="499.4" width="12" height="36.0" fill="#46c6ee"/>
<text x="1793.800" y="524.3" font-size="22" fill="#fff" text-anchor="middle">2</text>
<text x="1818.94" y="524.3" font-size="22" fill="#fff" textLength="37.23" lengthAdjust="spacingAndGlyphs" xml:space="preserve">8 %</text>
<text x="1980.54" y="524.3" font-size="22" fill="#707070" textLength="83.98" lengthAdjust="spacingAndGlyphs" xml:space="preserve">00:06:32</text>
<rect x="1778" y="537.2" width="32" height="36.0" fill="#c0c6c6"/>
<rect x="1811" y="537.2" width="152" height="36.0" fill="#cecece"/>
<rect x="1811" y="537.2" width="138.3" height="36.0" fill="#c0c6c6"/>
<text x="1793.800" y="562.1" font-size="22" fill="#fff" text-anchor="middle">1</text>
<text x="1818.82" y="562.1" font-size="22" fill="#fff" textLength="48.93" lengthAdjust="spacingAndGlyphs" xml:space="preserve">91 %</text>
<text x="1980.56" y="562.1" font-size="22" fill="#707070" textLength="82.22" lengthAdjust="spacingAndGlyphs" xml:space="preserve">01:12:21</text>
</svg>
</body>
</html>
